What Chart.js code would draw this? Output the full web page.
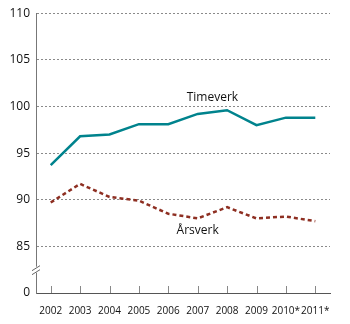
<!doctype html>
<html lang="no">
<head>
<meta charset="utf-8">
<title>Timeverk og årsverk</title>
<script src="https://cdn.jsdelivr.net/npm/chart.js@4/dist/chart.umd.min.js"></script>
<style>
  html, body { margin: 0; padding: 0; background: #fff; }
  #wrap { width: 350px; height: 324px; }
</style>
</head>
<body>
<div id="wrap"><canvas id="canvas"></canvas></div>
<script>
// data
var years = ['2002', '2003', '2004', '2005', '2006', '2007', '2008', '2009', '2010*', '2011*'];
var timeverk = [93.7, 96.8, 97.0, 98.1, 98.1, 99.2, 99.6, 98.0, 98.8, 98.8];
var arsverk = [89.7, 91.7, 90.3, 89.9, 88.5, 88.0, 89.2, 88.0, 88.2, 87.7];
var yTicks = [80, 85, 90, 95, 100, 105, 110]; // 80 stands in for the broken-axis "0"
var seriesLabels = ['Timeverk', 'Årsverk'];
// where the inline series names sit (category index, value)
var labelSpots = [[5.5, 100.9], [5, 86.7]];

var teal = '#00838d';
var brown = '#8e2f22';
var font = "'Open Sans', 'Noto Sans', sans-serif";

// ticks that point up into the plot, the axis break and the series names
var extras = {
  id: 'extras',
  afterDraw: function(chart) {
    var ctx = chart.ctx;
    var x = chart.scales.x, y = chart.scales.y;
    ctx.save();
    ctx.strokeStyle = '#888';
    ctx.lineWidth = 1;
    for (var i = 0; i < years.length; i++) {
      var px = Math.round(x.getPixelForValue(i)) + 0.5;
      ctx.beginPath();
      ctx.moveTo(px, y.bottom);
      ctx.lineTo(px, y.bottom - 7);
      ctx.stroke();
    }
    // break mark on the y axis
    var by = y.getPixelForValue(82.5);
    ctx.fillStyle = '#fff';
    ctx.fillRect(x.left - 3, by - 3, 6, 6);
    ctx.strokeStyle = '#666';
    ctx.beginPath();
    ctx.moveTo(x.left - 4, by + 1); ctx.lineTo(x.left + 4, by - 4);
    ctx.moveTo(x.left - 4, by + 5); ctx.lineTo(x.left + 4, by);
    ctx.stroke();
    // series names
    ctx.fillStyle = '#111';
    ctx.font = '12px ' + font;
    ctx.textAlign = 'center';
    ctx.textBaseline = 'middle';
    for (var j = 0; j < seriesLabels.length; j++) {
      var sx = x.left + (labelSpots[j][0] + 0.5) * (x.width / years.length);
      ctx.fillText(seriesLabels[j], sx, y.getPixelForValue(labelSpots[j][1]));
    }
    ctx.restore();
  }
};

var config = {
  type: 'line',
  data: {
    labels: years,
    datasets: [{
      label: seriesLabels[0],
      data: timeverk,
      borderColor: teal,
      borderWidth: 2.5,
      pointRadius: 0,
      tension: 0,
      fill: false
    }, {
      label: seriesLabels[1],
      data: arsverk,
      borderColor: brown,
      borderWidth: 2.5,
      borderDash: [4, 3],
      pointRadius: 0,
      tension: 0,
      fill: false
    }]
  },
  options: {
    responsive: true,
    maintainAspectRatio: false,
    animation: false,
    layout: { padding: { top: 13, right: 20, left: 0, bottom: 0 } },
    plugins: {
      legend: { display: false },
      tooltip: { enabled: false }
    },
    scales: {
      x: {
        offset: true,
        grid: { display: false },
        border: { display: true, color: '#555', width: 1 },
        ticks: {
          color: '#111',
          font: { family: font, size: 10 },
          maxRotation: 0,
          autoSkip: false,
          padding: 4
        },
        afterFit: function(scale) { scale.height = 31; }
      },
      y: {
        min: 80,
        max: 110,
        afterBuildTicks: function(scale) {
          scale.ticks = yTicks.map(function(v) { return { value: v }; });
        },
        grid: {
          drawTicks: false,
          color: function(ctx) { return ctx.tick && ctx.tick.value === 80 ? 'rgba(0,0,0,0)' : '#8a8a8a'; },
          lineWidth: 1
        },
        border: { display: true, color: '#777', width: 1, dash: [2, 2] },
        ticks: {
          color: '#111',
          font: { family: font, size: 12 },
          padding: 6,
          callback: function(v) { return v === 80 ? '0' : v; }
        },
        afterFit: function(scale) { scale.width = 36; }
      }
    }
  },
  plugins: [extras]
};

new Chart(document.getElementById('canvas'), config);
</script>
</body>
</html>
